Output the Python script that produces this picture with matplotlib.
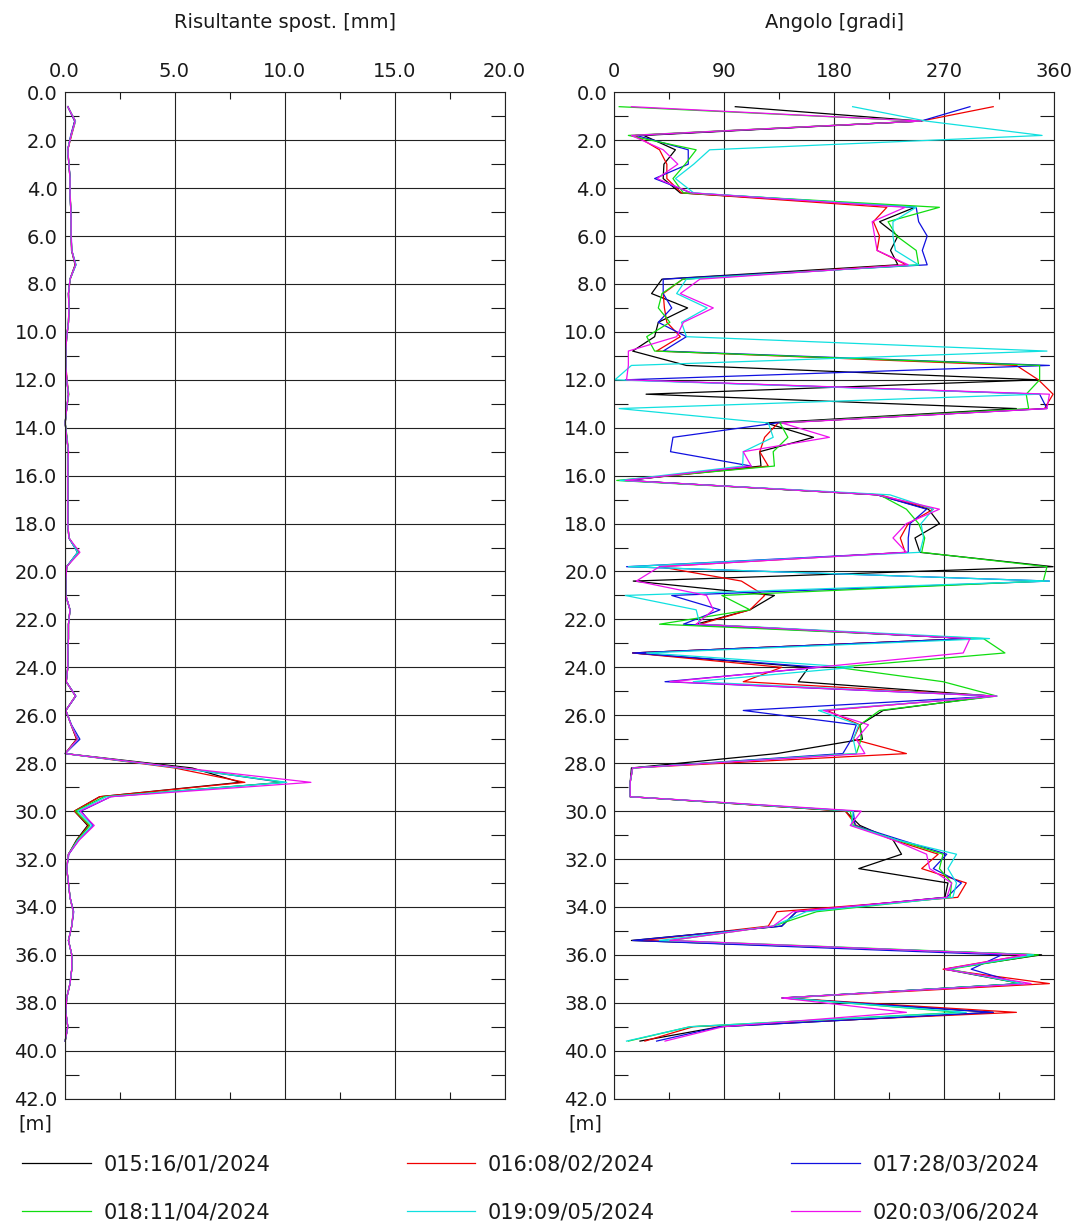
import numpy as np
import matplotlib
matplotlib.use("Agg")
from matplotlib import pyplot as plt

# depth of each reading [m]
depth = [0.6, 1.2, 1.8, 2.4, 3.0, 3.6, 4.2, 4.8, 5.4, 6.0, 6.6, 7.2, 7.8, 8.4, 9.0,
         9.6, 10.2, 10.8, 11.4, 12.0, 12.6, 13.2, 13.8, 14.4, 15.0, 15.6, 16.2, 16.8,
         17.4, 18.0, 18.6, 19.2, 19.8, 20.4, 21.0, 21.6, 22.2, 22.8, 23.4, 24.0, 24.6,
         25.2, 25.8, 26.4, 27.0, 27.6, 28.2, 28.8, 29.4, 30.0, 30.6, 31.2, 31.8, 32.4,
         33.0, 33.6, 34.2, 34.8, 35.4, 36.0, 36.6, 37.2, 37.8, 38.4, 39.0, 39.6]

labels = ["015:16/01/2024", "016:08/02/2024", "017:28/03/2024",
          "018:11/04/2024", "019:09/05/2024", "020:03/06/2024"]
colors = ["#000000", "#f00000", "#1010e0", "#10dd10", "#10e0e0", "#ee10ee"]

# resultant displacement [mm]
disp_015 = [0.15, 0.47, 0.30, 0.14, 0.20, 0.25, 0.25, 0.28, 0.30, 0.30, 0.32, 0.48, 0.25, 0.18,
            0.20, 0.18, 0.10, 0.06, 0.06, 0.10, 0.18, 0.10, 0.03, 0.10, 0.18, 0.15, 0.15, 0.15,
            0.15, 0.15, 0.20, 0.60, 0.10, 0.06, 0.06, 0.25, 0.18, 0.18, 0.15, 0.15, 0.08, 0.50,
            0.06, 0.30, 0.55, 0.03, 5.8, 8.0, 1.6, 0.45, 1.05, 0.55, 0.18, 0.10, 0.18, 0.25,
            0.40, 0.33, 0.18, 0.33, 0.33, 0.25, 0.10, 0.06, 0.15, 0.03]
disp_016 = [0.15, 0.50, 0.32, 0.15, 0.20, 0.25, 0.26, 0.28, 0.30, 0.30, 0.33, 0.50, 0.26, 0.18,
            0.20, 0.18, 0.10, 0.06, 0.06, 0.12, 0.18, 0.10, 0.03, 0.10, 0.18, 0.15, 0.15, 0.15,
            0.15, 0.15, 0.20, 0.62, 0.10, 0.06, 0.06, 0.25, 0.18, 0.18, 0.15, 0.15, 0.08, 0.50,
            0.06, 0.30, 0.55, 0.03, 5.0, 8.2, 1.6, 0.45, 1.10, 0.58, 0.18, 0.10, 0.18, 0.25,
            0.40, 0.33, 0.18, 0.33, 0.33, 0.25, 0.10, 0.06, 0.15, 0.03]
disp_017 = [0.15, 0.46, 0.28, 0.15, 0.20, 0.26, 0.25, 0.28, 0.30, 0.31, 0.33, 0.52, 0.25, 0.18,
            0.20, 0.18, 0.10, 0.06, 0.06, 0.10, 0.18, 0.10, 0.03, 0.10, 0.18, 0.15, 0.15, 0.15,
            0.15, 0.15, 0.20, 0.60, 0.10, 0.06, 0.06, 0.25, 0.18, 0.18, 0.15, 0.15, 0.08, 0.52,
            0.06, 0.32, 0.70, 0.03, 5.3, 9.9, 2.1, 0.75, 1.30, 0.65, 0.20, 0.10, 0.18, 0.25,
            0.42, 0.33, 0.18, 0.33, 0.33, 0.25, 0.10, 0.06, 0.15, 0.03]
disp_018 = [0.15, 0.48, 0.30, 0.15, 0.20, 0.25, 0.25, 0.28, 0.30, 0.30, 0.33, 0.50, 0.25, 0.18,
            0.20, 0.18, 0.10, 0.06, 0.06, 0.10, 0.20, 0.10, 0.03, 0.12, 0.18, 0.15, 0.15, 0.15,
            0.15, 0.15, 0.20, 0.65, 0.10, 0.06, 0.06, 0.25, 0.18, 0.18, 0.15, 0.15, 0.08, 0.50,
            0.06, 0.30, 0.60, 0.03, 5.4, 10.0, 1.8, 0.50, 1.15, 0.60, 0.18, 0.10, 0.18, 0.25,
            0.40, 0.33, 0.18, 0.33, 0.33, 0.25, 0.10, 0.06, 0.15, 0.03]
disp_019 = [0.15, 0.50, 0.30, 0.14, 0.20, 0.25, 0.25, 0.28, 0.30, 0.30, 0.33, 0.52, 0.25, 0.18,
            0.20, 0.18, 0.10, 0.06, 0.06, 0.10, 0.18, 0.10, 0.03, 0.10, 0.18, 0.15, 0.15, 0.15,
            0.15, 0.15, 0.20, 0.60, 0.10, 0.06, 0.06, 0.25, 0.18, 0.18, 0.15, 0.15, 0.08, 0.50,
            0.06, 0.30, 0.62, 0.03, 5.2, 10.1, 1.9, 0.60, 1.25, 0.62, 0.18, 0.10, 0.18, 0.25,
            0.40, 0.33, 0.18, 0.33, 0.33, 0.25, 0.10, 0.06, 0.15, 0.03]
disp_020 = [0.15, 0.48, 0.30, 0.15, 0.20, 0.25, 0.25, 0.28, 0.30, 0.30, 0.33, 0.50, 0.25, 0.18,
            0.20, 0.18, 0.10, 0.06, 0.06, 0.10, 0.18, 0.10, 0.03, 0.10, 0.18, 0.15, 0.15, 0.15,
            0.15, 0.15, 0.20, 0.70, 0.10, 0.06, 0.06, 0.25, 0.18, 0.18, 0.15, 0.15, 0.08, 0.50,
            0.06, 0.30, 0.60, 0.03, 5.4, 11.2, 2.1, 0.70, 1.35, 0.68, 0.18, 0.10, 0.18, 0.25,
            0.40, 0.33, 0.18, 0.33, 0.33, 0.25, 0.10, 0.06, 0.15, 0.03]

# direction angle [degrees]
ang_015 = [99, 251, 24, 50, 40.6, 40, 54, 246, 217, 232, 226, 232, 39, 30.5, 60, 36, 33, 15,
           59, 347, 26, 329, 124, 163, 119, 120, 9, 215, 257, 266, 246, 250, 359, 15.5, 131,
           111, 67, 291, 15, 159, 150.5, 310, 220, 201, 203, 133, 14, 13, 13, 189, 201, 228,
           235, 200, 273, 270.5, 149, 137, 14, 349.6, 270.5, 333, 137, 310, 86.5, 21]
ang_016 = [310, 251, 17, 37, 43, 43, 55, 223, 212, 217, 215, 239, 56, 40, 41, 43, 54, 34.6,
           329, 347, 359, 352, 134, 123, 119, 126, 7.4, 217, 261, 240.5, 234, 238, 37, 104,
           123, 111, 70, 291, 15, 137, 105.5, 310, 174, 201, 195.5, 239, 15, 13, 13, 189, 198,
           228, 265, 251.5, 288, 281, 133, 126, 24, 337, 269, 356, 139, 329, 64.6, 25]
ang_017 = [291, 251, 18, 60.5, 60.5, 33, 63, 247, 249, 256, 252, 256, 40, 40, 47, 36, 59, 40,
           356, 9, 348, 354, 133, 48, 46, 112, 10, 215, 255.5, 242, 240.5, 240.5, 10, 356, 47,
           86.5, 56.5, 291, 15, 168, 41.5, 312, 105.5, 198, 194, 187, 15, 13, 13, 195.5, 197,
           234, 272, 261, 284, 272, 149, 137, 15, 317, 292, 332, 138, 310, 86.5, 34.6]
ang_018 = [4, 251, 11.5, 67, 58, 48, 56.5, 266, 224, 231, 247, 249, 56, 39, 36, 45.5, 26.5, 33,
           348, 348, 337, 339, 135.5, 142, 130, 131, 2, 217, 239, 249, 254, 251.5, 354, 351,
           88, 111, 37, 302, 319.6, 182, 269, 313, 217, 201, 202, 198, 15, 13, 13, 193, 195.5,
           231, 269, 266, 276, 274.6, 165.5, 130, 45.5, 347, 274.6, 333, 140, 283, 62, 11.5]
ang_019 = [195, 255, 350, 78, 65, 50, 65, 247, 228, 228, 230, 249, 59, 51, 76, 55, 59, 354,
           14, 0.5, 348, 4, 126, 130, 105.5, 105, 4.6, 225.5, 261, 251, 253, 250, 11.5, 356,
           9, 67, 70, 307, 26.5, 195.5, 64.6, 313, 167, 200, 195.5, 198, 15, 13, 13, 195.5,
           194, 231, 280, 273, 280, 277, 157, 130, 37, 343, 272, 334.6, 139, 288, 62, 10]
ang_020 = [14, 251, 14, 40, 52, 35, 63, 238, 211, 213, 215, 240.5, 70, 54, 81, 56.5, 51, 11.5,
           11.5, 10, 356, 354, 137, 176, 105.5, 112, 9, 215, 266, 239, 228, 239, 37, 18, 75.5,
           81, 67, 291, 285.5, 165.5, 45.5, 313, 171, 208, 198, 205, 15, 13, 13, 202, 193, 228,
           255.5, 258, 276, 272, 146, 130, 45.5, 337, 270.5, 341, 137, 239, 89, 41.5]

disp_series = [disp_015, disp_016, disp_017, disp_018, disp_019, disp_020]
ang_series = [ang_015, ang_016, ang_017, ang_018, ang_019, ang_020]

plt.rcParams["font.family"] = "DejaVu Sans"
plt.rcParams["text.color"] = "#1a1a1a"
plt.rcParams["xtick.color"] = "#1a1a1a"
plt.rcParams["ytick.color"] = "#1a1a1a"

fig = plt.figure(figsize=(10.75, 12.21), dpi=100)
W, H = 1075.0, 1221.0
bottom = 1 - 1098.6 / H
height = 1006.3 / H
ax1 = fig.add_axes([64.5 / W, bottom, 440 / W, height])
ax2 = fig.add_axes([614.3 / W, bottom, 440 / W, height])


def style_axis(ax, xmax, xmajor, xminor, xfmt, title):
    ax.set_xlim(0, xmax)
    ax.set_ylim(42, 0)
    ax.xaxis.tick_top()
    ax.set_xticks(xmajor)
    ax.set_xticklabels([xfmt % v for v in xmajor])
    ax.set_xticks(xminor, minor=True)
    ax.set_yticks(np.arange(0, 43, 2))
    ax.set_yticklabels(["%.1f" % v for v in np.arange(0, 43, 2)])
    ax.set_yticks(np.arange(1, 42, 2), minor=True)
    ax.tick_params(axis="both", which="major", length=0, labelsize=14)
    ax.tick_params(axis="x", which="major", pad=8)
    ax.tick_params(axis="y", which="major", pad=5)
    ax.tick_params(axis="y", which="minor", direction="in", length=10, width=0.8,
                   left=True, right=True)
    ax.tick_params(axis="x", which="minor", direction="in", length=5, width=0.8,
                   top=True, bottom=True)
    ax.grid(True, which="major", color="#222222", lw=0.8)
    for sp in ax.spines.values():
        sp.set_linewidth(0.8)
        sp.set_color("#222222")
    ax.text(0.5, 1.069, title, transform=ax.transAxes, ha="center", va="center",
            fontsize=14)
    ax.text(-0.066, 43.05, "[m]", transform=ax.get_yaxis_transform(),
            ha="center", va="center", fontsize=14)


style_axis(ax1, 20, [0, 5, 10, 15, 20], [2.5, 7.5, 12.5, 17.5], "%.1f",
           "Risultante spost. [mm]")
style_axis(ax2, 360, [0, 90, 180, 270, 360], [45, 135, 225, 315], "%d",
           "Angolo [gradi]")

handles = []
for vals, col, lab in zip(disp_series, colors, labels):
    ax1.plot(vals, depth, color=col, lw=0.9, clip_on=False)
for vals, col, lab in zip(ang_series, colors, labels):
    h, = ax2.plot(vals, depth, color=col, lw=0.9, label=lab)
    handles.append(h)

# legend reads row by row: 015 016 017 / 018 019 020
order = [0, 3, 1, 4, 2, 5]
fig.legend([handles[i] for i in order], [labels[i] for i in order],
           loc="upper left", bbox_to_anchor=(22 / W, 1 - 1154 / H), ncol=3,
           frameon=False, fontsize=15, handlelength=3.3, handletextpad=0.6,
           columnspacing=6.55, labelspacing=1.35, borderpad=0, borderaxespad=0)

fig.savefig("out.png", dpi=100, facecolor="white")
